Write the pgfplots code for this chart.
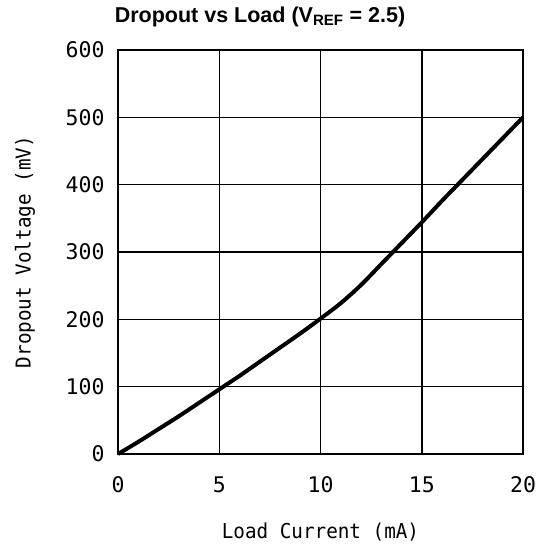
\documentclass[border=0pt]{standalone}
\usepackage{pgfplots}
\pgfplotsset{compat=1.18}
\usepackage{fontspec}
\setmainfont{Liberation Sans}
\newfontfamily\tickfont{DejaVu Sans Mono}
\newfontfamily\labfont[FakeStretch=0.94]{DejaVu Sans Mono}
\begin{document}
\begin{tikzpicture}
\begin{axis}[
  scale only axis,
  clip=false,
  width=405bp, height=404bp,
  xmin=0, xmax=20, ymin=0, ymax=600,
  xtick={0,5,10,15,20}, ytick={0,100,...,600},
  grid=major,
  major grid style={black, line width=1.5bp},
  axis line style={black, line width=2.2bp},
  major tick length=0pt,
  /pgf/number format/assume math mode=true,
  ticklabel style={font=\tickfont\fontsize{21.5bp}{25bp}\selectfont, text=black},
  xticklabel style={yshift=-19bp},
  yticklabel style={xshift=-10bp},
  xlabel={Load Current (mA)},
  ylabel={Dropout Voltage (mV)},
  label style={font=\labfont\fontsize{20.5bp}{24bp}\selectfont},
  xlabel style={at={(rel axis cs:0.5,-0.193)}, anchor=center},
  ylabel style={at={(rel axis cs:-0.2296,0.5)}, anchor=center, rotate=0},
]
\addplot[black, line width=4bp, smooth] coordinates {
(0,0) (1,18) (2,37) (3,56) (4,76) (5,96) (6,116) (7,137) (8,158) (9,179)
(10,201) (11,224) (12,251) (13,282) (14,313) (15,344) (16,376) (17,407)
(18,438) (19,469) (20,500)};
\end{axis}
\node[font=\bfseries\fontsize{21.5bp}{25bp}\selectfont, anchor=center] at ([shift={(142bp,33bp)}]current axis.north west) {Dropout vs Load (V\textsubscript{REF} = 2.5)};
\pgfresetboundingbox
\path[use as bounding box] ([shift={(-118bp,-92bp)}]current axis.south west) rectangle ([shift={(29bp,50bp)}]current axis.north east);
\end{tikzpicture}
\end{document}
